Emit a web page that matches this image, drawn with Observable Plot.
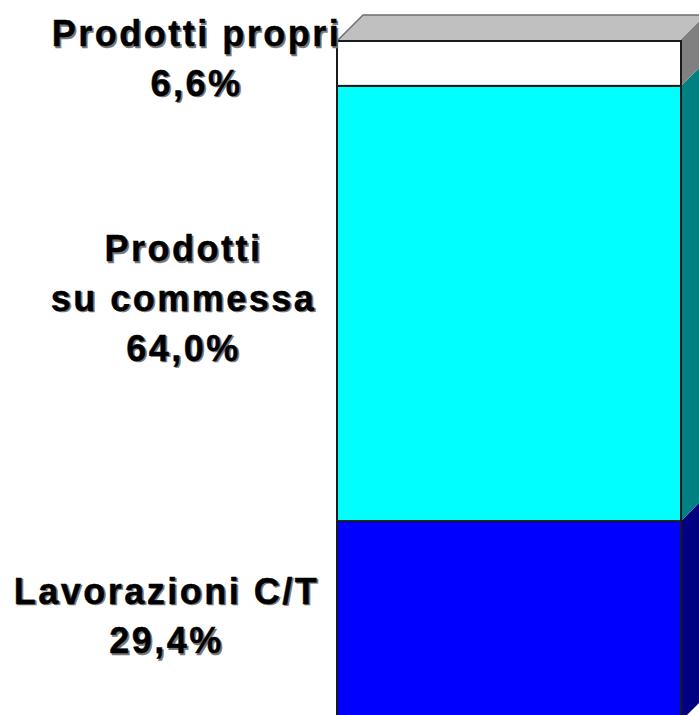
<!DOCTYPE html>
<html><head><meta charset="utf-8">
<script src="https://cdn.jsdelivr.net/npm/d3@7"></script>
<script src="https://cdn.jsdelivr.net/npm/@observablehq/plot@0.6"></script>
<style>html,body{margin:0;padding:0;background:#fff;overflow:hidden}</style>
</head><body><div id="chart"></div>
<script>
// ---- data ----
const categories = ["Lavorazioni C/T", "Prodotti su commessa", "Prodotti propri"];
const values = [29.4, 64.0, 6.6];
const labelLines = ["Lavorazioni C/T", "Prodotti\nsu commessa", "Prodotti propri"];
const percentLabels = ["29,4%", "64,0%", "6,6%"];

// ---- layout / style ----
const W = 699, H = 715;
const xRange = [337, 681];
const yRange = [721, 41];
const depth = 26;
const frontColors = ["#0000ff", "#00ffff", "#ffffff"];
const sideColors = ["#000080", "#008080", "#808080"];
const labelDx = [-171, -154, -141];
const font = "Liberation Sans, Arial, Helvetica, sans-serif";

const ends = d3.cumsum(values);
const total = ends[ends.length - 1];
const rows = categories.map((c, i) => ({
  category: c, value: values[i],
  y1: ends[i] - values[i], y2: ends[i],
  label: labelLines[i] + "\n" + percentLabels[i]
}));
const dX = depth / (xRange[1] - xRange[0]);
const dY = depth / ((yRange[0] - yRange[1]) / total);

const topFace = [
  {x: 0, y1: total, y2: total},
  {x: dX, y1: total, y2: total + dY},
  {x: 1, y1: total, y2: total + dY},
  {x: 1 + dX, y1: total + dY, y2: total + dY}
];

const marks = [];
marks.push(Plot.areaY(topFace, {x: "x", y1: "y1", y2: "y2", fill: "#c0c0c0", stroke: "#6e6e6e", strokeWidth: 1.5}));
rows.forEach((r, i) => {
  const side = [
    {x: 1, y1: r.y1, y2: r.y2},
    {x: 1 + dX, y1: r.y1 + dY, y2: r.y2 + dY}
  ];
  marks.push(Plot.areaY(side, {x: "x", y1: "y1", y2: "y2", fill: sideColors[i]}));
});
marks.push(Plot.rect(rows, {x1: () => 0, x2: () => 1, y1: "y1", y2: "y2", fill: "category", stroke: "#1a1a1a", strokeWidth: 2}));
rows.forEach((r, i) => {
  const common = {
    x: () => 0, y: d => (d.y1 + d.y2) / 2, text: "label",
    fontSize: 36, fontWeight: "bold", fontFamily: font,
    lineHeight: 1.38, textAnchor: "middle"
  };
  marks.push(Plot.text([r], {...common, dx: labelDx[i] + 1.5, dy: -7.5, fill: "#777", stroke: "#777", strokeWidth: 0.6}));
  marks.push(Plot.text([r], {...common, dx: labelDx[i], dy: -9, fill: "#000", stroke: "#000", strokeWidth: 0.4}));
});

const chart = Plot.plot({
  width: W, height: H,
  marginTop: 0, marginRight: 0, marginBottom: 0, marginLeft: 0,
  x: {domain: [0, 1], range: xRange, axis: null},
  y: {domain: [0, total], range: yRange, axis: null},
  color: {domain: categories, range: frontColors},
  style: {background: "#fff", letterSpacing: "2.5px"},
  marks
});
document.getElementById("chart").appendChild(chart);
</script>
</body></html>
